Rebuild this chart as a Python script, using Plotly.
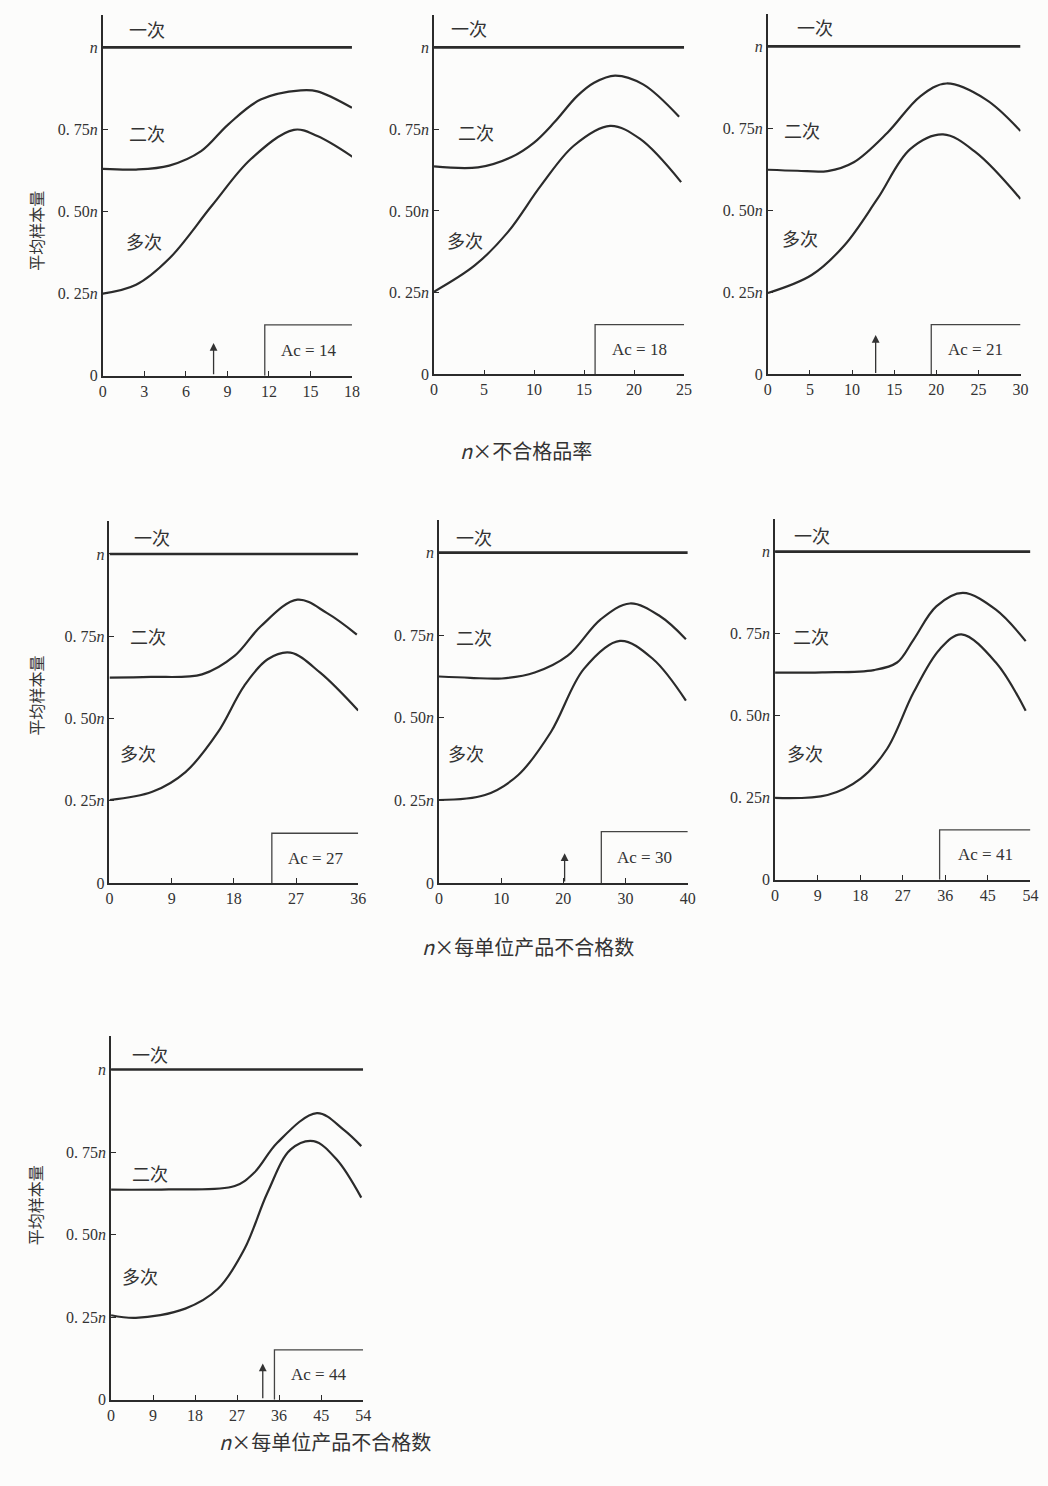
import plotly.graph_objects as go

W, H = 1048, 1486

# ---------------- data ----------------
x_max = [18, 25, 30, 36, 40, 54, 54]
x_dtick = [3, 5, 5, 9, 10, 9, 9]

# 二次 (double) curves
double_x = [
    [0, 2.4, 4.8, 7.1, 9.05, 11.4, 14.3, 15.5, 18],
    [0, 4.4, 7.7, 10.0, 12.0, 14.3, 16.0, 18.1, 20.9, 24.5],
    [0, 3.5, 7.1, 10.2, 14.2, 18.1, 21.2, 25.9, 30],
    [0, 6, 13.4, 18.1, 21.9, 27.2, 31.5, 35.8],
    [0, 5, 10.1, 15.4, 20.7, 26, 30.7, 35.5, 39.7],
    [0, 10, 20.9, 25.8, 29.3, 34.1, 39.7, 46.7, 53],
    [0, 12.4, 26.5, 30.7, 35.6, 44.1, 49.8, 53.6],
]
double_y = [
    [0.630, 0.628, 0.640, 0.684, 0.765, 0.841, 0.869, 0.866, 0.816],
    [0.636, 0.633, 0.664, 0.709, 0.770, 0.851, 0.892, 0.914, 0.887, 0.788],
    [0.624, 0.621, 0.620, 0.647, 0.737, 0.848, 0.887, 0.838, 0.742],
    [0.624, 0.626, 0.634, 0.690, 0.780, 0.861, 0.820, 0.755],
    [0.625, 0.621, 0.619, 0.637, 0.688, 0.798, 0.846, 0.808, 0.738],
    [0.631, 0.632, 0.639, 0.662, 0.732, 0.833, 0.874, 0.823, 0.727],
    [0.636, 0.637, 0.647, 0.688, 0.778, 0.868, 0.818, 0.768],
]

# 多次 (multiple) curves
multi_x = [
    [0, 2.4, 4.8, 7.9, 10.7, 13.8, 15.5, 18.1],
    [0, 4.1, 7.4, 10.7, 14.0, 17.6, 20.6, 24.7],
    [0, 5.2, 9.1, 13.0, 16.9, 20.8, 24.7, 30],
    [0, 6.2, 11, 15.7, 19.5, 22.9, 26.2, 30.5, 36],
    [0, 7.4, 12.7, 18, 23.3, 29.1, 34.4, 39.7],
    [0, 11.1, 18.1, 23.7, 29.3, 34.8, 39.4, 46.7, 53],
    [0, 5.3, 15.9, 22.9, 28.6, 33.5, 38.5, 43.4, 48.3, 53.6],
]
multi_y = [
    [0.250, 0.277, 0.357, 0.519, 0.660, 0.749, 0.730, 0.665],
    [0.253, 0.334, 0.436, 0.578, 0.700, 0.760, 0.720, 0.588],
    [0.248, 0.303, 0.394, 0.535, 0.687, 0.732, 0.677, 0.535],
    [0.252, 0.277, 0.337, 0.458, 0.599, 0.680, 0.700, 0.639, 0.524],
    [0.251, 0.266, 0.326, 0.457, 0.648, 0.733, 0.678, 0.552],
    [0.249, 0.258, 0.308, 0.399, 0.571, 0.702, 0.748, 0.662, 0.515],
    [0.256, 0.248, 0.276, 0.336, 0.457, 0.627, 0.758, 0.783, 0.728, 0.612],
]

single_level = 1.0

ac_values = [14, 18, 21, 27, 30, 41, 44]
ac_x = [11.7, 16.1, 19.4, 23.5, 26.1, 34.8, 35.0]
ac_top = [0.155, 0.152, 0.152, 0.151, 0.155, 0.152, 0.151]

arrow_panel = [0, 2, 4, 6]
arrow_x = [8, 12.8, 20.2, 32.5]
arrow_top = [0.10, 0.12, 0.09, 0.11]

lab_single = [(3.2, 1.057), (3.5, 1.06), (5.6, 1.06), (6.2, 1.052), (5.6, 1.048), (7.9, 1.05), (8.4, 1.048)]
lab_double = [(3.2, 0.74), (4.2, 0.74), (4.1, 0.745), (5.6, 0.75), (5.6, 0.744), (7.5, 0.742), (8.4, 0.687)]
lab_multi = [(3.0, 0.41), (3.1, 0.41), (3.8, 0.415), (4.1, 0.394), (4.4, 0.392), (6.3, 0.385), (6.3, 0.374)]

y_tickvals = [0, 0.25, 0.5, 0.75, 1.0]
y_ticktext = ["0", "0. 25<i>n</i>", "0. 50<i>n</i>", "0. 75<i>n</i>", "<i>n</i>"]

y_title = "平均样本量"
x_title_1 = "<i>n</i>×不合格品率"
x_title_2 = "<i>n</i>×每单位产品不合格数"

# ---------------- layout geometry (pixels) ----------------
# (x_left, x_right, y_zero, y_n)
panels_px = [
    (100, 352, 378, 47.7),
    (435, 688, 376.7, 47.7),
    (772.7, 1028.3, 376.7, 46.7),
    (106.7, 358.3, 888.3, 557.3),
    (440, 691.7, 888.3, 556),
    (780, 1038.3, 885, 555),
    (108.3, 363.3, 1408.3, 1076),
]
Y_TOP = 1.1

INK = "#2b2b2b"
SERIF = "Liberation Serif"
CJK = "Noto Sans CJK SC"

fig = go.Figure()
layout = {}

for i, (xl, xr, y0, yn) in enumerate(panels_px):
    k = "" if i == 0 else str(i + 1)
    xa, ya = "x" + k, "y" + k
    scale = y0 - yn
    ytop_px = y0 - Y_TOP * scale
    layout["xaxis" + k] = dict(
        domain=[xl / W, xr / W], anchor=ya, range=[0, x_max[i]],
        tickmode="linear", tick0=0, dtick=x_dtick[i],
        showgrid=False, zeroline=False, showline=True, linecolor=INK, linewidth=1.6,
        ticks="inside", ticklen=5, tickcolor=INK, tickwidth=1,
        tickfont=dict(family=SERIF, size=16, color="#333"), fixedrange=True,
    )
    layout["yaxis" + k] = dict(
        domain=[1 - y0 / H, 1 - ytop_px / H], anchor=xa, range=[0, Y_TOP],
        tickvals=y_tickvals, ticktext=y_ticktext,
        showgrid=False, zeroline=False, showline=True, linecolor=INK, linewidth=1.6,
        ticks="inside", ticklen=5, tickcolor=INK, tickwidth=1,
        tickfont=dict(family=SERIF, size=16, color="#333"), fixedrange=True,
    )
    # 一次
    fig.add_trace(go.Scatter(x=[0, x_max[i]], y=[single_level, single_level], xaxis=xa, yaxis=ya,
                             mode="lines", line=dict(color=INK, width=2.6), showlegend=False,
                             hoverinfo="skip"))
    # 二次
    fig.add_trace(go.Scatter(x=double_x[i], y=double_y[i], xaxis=xa, yaxis=ya, mode="lines",
                             line=dict(color=INK, width=2.2, shape="spline", smoothing=1.0),
                             showlegend=False, hoverinfo="skip"))
    # 多次
    fig.add_trace(go.Scatter(x=multi_x[i], y=multi_y[i], xaxis=xa, yaxis=ya, mode="lines",
                             line=dict(color=INK, width=2.2, shape="spline", smoothing=1.0),
                             showlegend=False, hoverinfo="skip"))
    # Ac box
    fig.add_trace(go.Scatter(x=[ac_x[i], ac_x[i], x_max[i]], y=[0, ac_top[i], ac_top[i]],
                             xaxis=xa, yaxis=ya, mode="lines",
                             line=dict(color="#444", width=1.3), showlegend=False, hoverinfo="skip"))

ann = []
for i in range(7):
    k = "" if i == 0 else str(i + 1)
    xa, ya = "x" + k, "y" + k
    ann.append(dict(x=(ac_x[i] + x_max[i]) / 2, y=ac_top[i] * 0.5, xref=xa, yref=ya,
                    text=f"Ac = {ac_values[i]}", showarrow=False,
                    font=dict(family=SERIF, size=17, color="#333")))
    for (lx, ly), t in ((lab_single[i], "一次"), (lab_double[i], "二次"), (lab_multi[i], "多次")):
        ann.append(dict(x=lx, y=ly, xref=xa, yref=ya, text=t, showarrow=False,
                        font=dict(family=CJK, size=18, color="#333")))

for j, p in enumerate(arrow_panel):
    k = "" if p == 0 else str(p + 1)
    xa, ya = "x" + k, "y" + k
    ann.append(dict(x=arrow_x[j], y=arrow_top[j], ax=arrow_x[j], ay=0, xref=xa, yref=ya,
                    axref=xa, ayref=ya, text="", showarrow=True, arrowhead=2, arrowsize=1.2,
                    arrowwidth=1.3, arrowcolor="#333"))

# y-axis titles
for yc in (190, 700, 1255):
    ann.append(dict(x=18 / W, y=1 - yc / H, xref="paper", yref="paper", text=y_title,
                    textangle=-90, showarrow=False,
                    font=dict(family=CJK, size=16, color="#333")))
# x-axis titles
for (xc, yc, t) in ((528, 437, x_title_1), (530, 952, x_title_2), (215, 1467, x_title_2)):
    ann.append(dict(x=xc / W, y=1 - yc / H, xref="paper", yref="paper", text=t,
                    showarrow=False, font=dict(family=CJK, size=20, color="#333")))

fig.update_layout(
    width=W, height=H, margin=dict(l=0, r=0, t=0, b=0),
    paper_bgcolor="#fcfcfb", plot_bgcolor="rgba(0,0,0,0)",
    annotations=ann, showlegend=False, **layout,
)

fig.write_html("out.html", config={"displayModeBar": False},
               post_script="document.body.style.margin='0';document.body.style.overflow='hidden';")
